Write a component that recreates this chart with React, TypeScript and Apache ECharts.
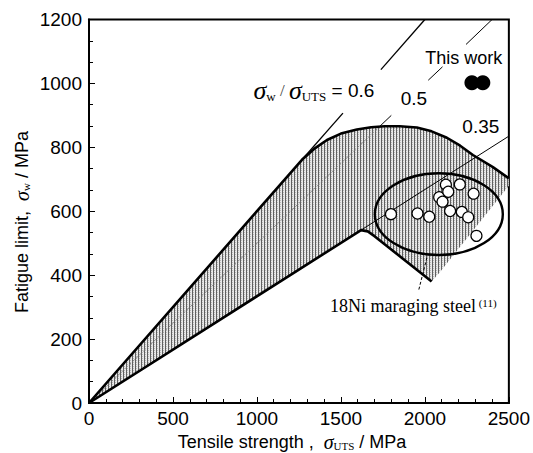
import React, { useEffect, useRef } from "react";
import * as echarts from "echarts";

// Axis ticks
const xTickValues = [0, 500, 1000, 1500, 2000, 2500];
const yTickValues = [0, 200, 400, 600, 800, 1000, 1200];

// Hatched scatter band of 18Ni maraging steel (upper edge, right edge, lower edge)
const bandUpper: number[][] = [
  [0, 0], [1268, 761], [1340, 795], [1417, 823], [1500, 843], [1595, 856], [1680, 863],
  [1760, 866], [1850, 866], [1952, 862], [2040, 850], [2131, 830], [2210, 805],
  [2286, 776], [2405, 738], [2500, 703],
];
const bandRight: number[][] = [[2500, 680], [2090, 410], [2040, 380]];
const bandLower: number[][] = [[2040, 380], [1700, 522], [1660, 537], [1620, 541], [0, 0]];

// Ratio lines sigma_w / sigma_UTS
const ratio06Segments: number[][][] = [
  [[1268, 761], [1512, 907]],
  [[1738, 1043], [2000, 1200]],
];
const ratio05Inside: number[][] = [[0, 0], [1728, 864]];
const ratio05Segments: number[][][] = [
  [[1728, 864], [1800, 900]],
  [[2020, 1010], [2105, 1052]],
  [[2245, 1122], [2400, 1200]],
];
const ratio035Line: number[][] = [[0, 0], [2500, 835]];

// 18Ni maraging steel data (open circles)
const steelX = [1798, 1956, 2026, 2085, 2105, 2125, 2139, 2208, 2290, 2150, 2220, 2258, 2307];
const steelY = [591, 593, 583, 644, 630, 683, 661, 684, 655, 601, 598, 581, 523];

// This work (filled circles)
const workX = [2280, 2345];
const workY = [1002, 1002];

// Ellipse around maraging steel data: center and radii (data units)
const ellipseCenter = [2083, 591];
const ellipseRadii = [381, 128];

// Leader line to the label
const leader: number[][] = [[2012, 455], [1964, 355]];

// Annotation texts
const labelTexts = [
  "This work",
  "0.5",
  "0.35",
  "{s|σ}{sub|w}{sl| / }{s|σ}{sub|UTS}{n| = 0.6}",
  "18Ni maraging steel{sup| (11)}",
];
const labelX = [2232, 1935, 2333, 1339, 1435];
const labelY = [1079, 954, 864, 979, 303];

function makeHatch(): HTMLCanvasElement {
  const c = document.createElement("canvas");
  c.width = 3;
  c.height = 2;
  const ctx = c.getContext("2d")!;
  ctx.fillStyle = "#e8e8e8";
  ctx.fillRect(0, 0, 3, 2);
  ctx.fillStyle = "#b8b8b8";
  ctx.fillRect(1, 0, 1, 1);
  ctx.fillStyle = "#606060";
  ctx.fillRect(0, 0, 1, 2);
  return c;
}

const richLabel: any = {
  s: { fontFamily: "Liberation Serif", fontStyle: "italic", fontSize: 26, fill: "#000" },
  sub: { fontFamily: "Liberation Serif", fontSize: 13, verticalAlign: "bottom", fill: "#000" },
  sl: { fontFamily: "Liberation Serif", fontSize: 17, fill: "#444" },
  n: { fontFamily: "Liberation Sans", fontSize: 19, fill: "#000" },
  sup: { fontFamily: "Liberation Serif", fontSize: 11, verticalAlign: "top", fill: "#000" },
};

const richTitle: any = {
  s: { fontFamily: "Liberation Serif", fontStyle: "italic", fontSize: 20, fill: "#000", lineHeight: 18 },
  sub: { fontFamily: "Liberation Serif", fontSize: 11, verticalAlign: "bottom", fill: "#000", lineHeight: 10 },
};

export default function App() {
  const ref = useRef<HTMLDivElement>(null);
  useEffect(() => {
    document.body.style.margin = "0";
    const chart = echarts.init(ref.current!, null, { renderer: "svg" });
    const hatch = makeHatch();
    const polygon = [...bandUpper, ...bandRight, ...bandLower];

    const lineSeries = (data: number[][], width: number, color: string, type: any = "solid", z = 3) => ({
      type: "line",
      data,
      symbol: "none",
      showSymbol: false,
      silent: true,
      z,
      lineStyle: { width, color, type },
    });

    const series: any[] = [
      {
        type: "custom",
        z: 1,
        silent: true,
        data: [[0, 0]],
        renderItem: (_p: any, api: any) => ({
          type: "polygon",
          shape: { points: polygon.map((pt) => api.coord(pt)) },
          style: { fill: { image: hatch, repeat: "repeat" }, stroke: "none" },
        }),
      },
      lineSeries(ratio05Inside, 0.8, "#777", [3, 2], 2),
      ...ratio05Segments.map((s) => lineSeries(s, 1, "#000")),
      ...ratio06Segments.map((s) => lineSeries(s, 1.3, "#000")),
      lineSeries(ratio035Line, 1, "#000"),
      lineSeries(bandUpper, 2.6, "#000", "solid", 4),
      lineSeries(bandLower, 2.6, "#000", "solid", 4),
      lineSeries(leader, 1, "#000", [3, 2]),
      {
        type: "custom",
        z: 5,
        silent: true,
        data: [ellipseCenter],
        renderItem: (_p: any, api: any) => {
          const c = api.coord(ellipseCenter);
          const sz = api.size(ellipseRadii);
          return {
            type: "ellipse",
            shape: { cx: c[0], cy: c[1], rx: sz[0], ry: sz[1] },
            style: { fill: "none", stroke: "#000", lineWidth: 2.4 },
          };
        },
      },
      {
        type: "scatter",
        z: 6,
        silent: true,
        symbolSize: 11,
        data: steelX.map((x, i) => [x, steelY[i]]),
        itemStyle: { color: "#fff", borderColor: "#000", borderWidth: 1.2, opacity: 1 },
      },
      {
        type: "scatter",
        z: 6,
        silent: true,
        symbolSize: 15,
        data: workX.map((x, i) => [x, workY[i]]),
        itemStyle: { color: "#000", opacity: 1 },
      },
      {
        type: "custom",
        z: 7,
        silent: true,
        data: labelTexts.map((_, i) => [labelX[i], labelY[i]]),
        renderItem: (params: any, api: any) => {
          const i = params.dataIndex;
          const p = api.coord([labelX[i], labelY[i]]);
          const isSerif = i === 4;
          return {
            type: "text",
            x: p[0],
            y: p[1],
            style: {
              text: labelTexts[i],
              fill: "#000",
              fontSize: i === 0 ? 18 : isSerif ? 18 : 19,
              fontFamily: isSerif ? "Liberation Serif" : "Liberation Sans",
              align: i === 4 ? "left" : "center",
              verticalAlign: "middle",
              rich: richLabel,
            },
          };
        },
      },
    ];

    chart.setOption({
      animation: false,
      grid: {
        left: 89,
        right: 24,
        top: 19.5,
        bottom: 50,
        show: true,
        borderColor: "#000",
        borderWidth: 2,
        backgroundColor: "transparent",
      },
      xAxis: {
        type: "value",
        min: xTickValues[0],
        max: xTickValues[xTickValues.length - 1],
        interval: 500,
        axisLine: { show: true, lineStyle: { color: "#000", width: 2 } },
        axisTick: { show: true, inside: true, length: 6, lineStyle: { color: "#000", width: 1 } },
        minorTick: { show: true, splitNumber: 5, length: 4, lineStyle: { color: "#000", width: 1 } },
        splitLine: { show: false },
        axisLabel: {
          fontSize: 19,
          fontFamily: "Liberation Sans",
          color: "#000",
          margin: 6,
          formatter: (v: number) => String(v),
        },
      },
      yAxis: {
        type: "value",
        min: yTickValues[0],
        max: yTickValues[yTickValues.length - 1],
        interval: 200,
        axisLine: { show: true, lineStyle: { color: "#000", width: 2 } },
        axisTick: { show: true, inside: true, length: 6, lineStyle: { color: "#000", width: 1 } },
        minorTick: { show: true, splitNumber: 3, length: 4, lineStyle: { color: "#000", width: 1 } },
        splitLine: { show: false },
        axisLabel: {
          fontSize: 19,
          fontFamily: "Liberation Sans",
          color: "#000",
          margin: 7,
          formatter: (v: number) => String(v),
        },
      },
      graphic: [
        {
          type: "text",
          x: 292,
          y: 442,
          silent: true,
          style: {
            text: "Tensile strength ,  {s|σ}{sub|UTS} / MPa",
            fill: "#000",
            fontSize: 18,
            fontFamily: "Liberation Sans",
            align: "center",
            verticalAlign: "middle",
            lineHeight: 18,
            rich: richTitle,
          },
        },
        {
          type: "text",
          x: 22,
          y: 222,
          rotation: Math.PI / 2,
          silent: true,
          style: {
            text: "Fatigue limit,  {s|σ}{sub|w} / MPa",
            fill: "#000",
            fontSize: 18,
            fontFamily: "Liberation Sans",
            align: "center",
            verticalAlign: "middle",
            lineHeight: 18,
            rich: richTitle,
          },
        },
      ],
      series,
    });
    return () => chart.dispose();
  }, []);
  return <div ref={ref} style={{ width: 533, height: 453 }} />;
}
